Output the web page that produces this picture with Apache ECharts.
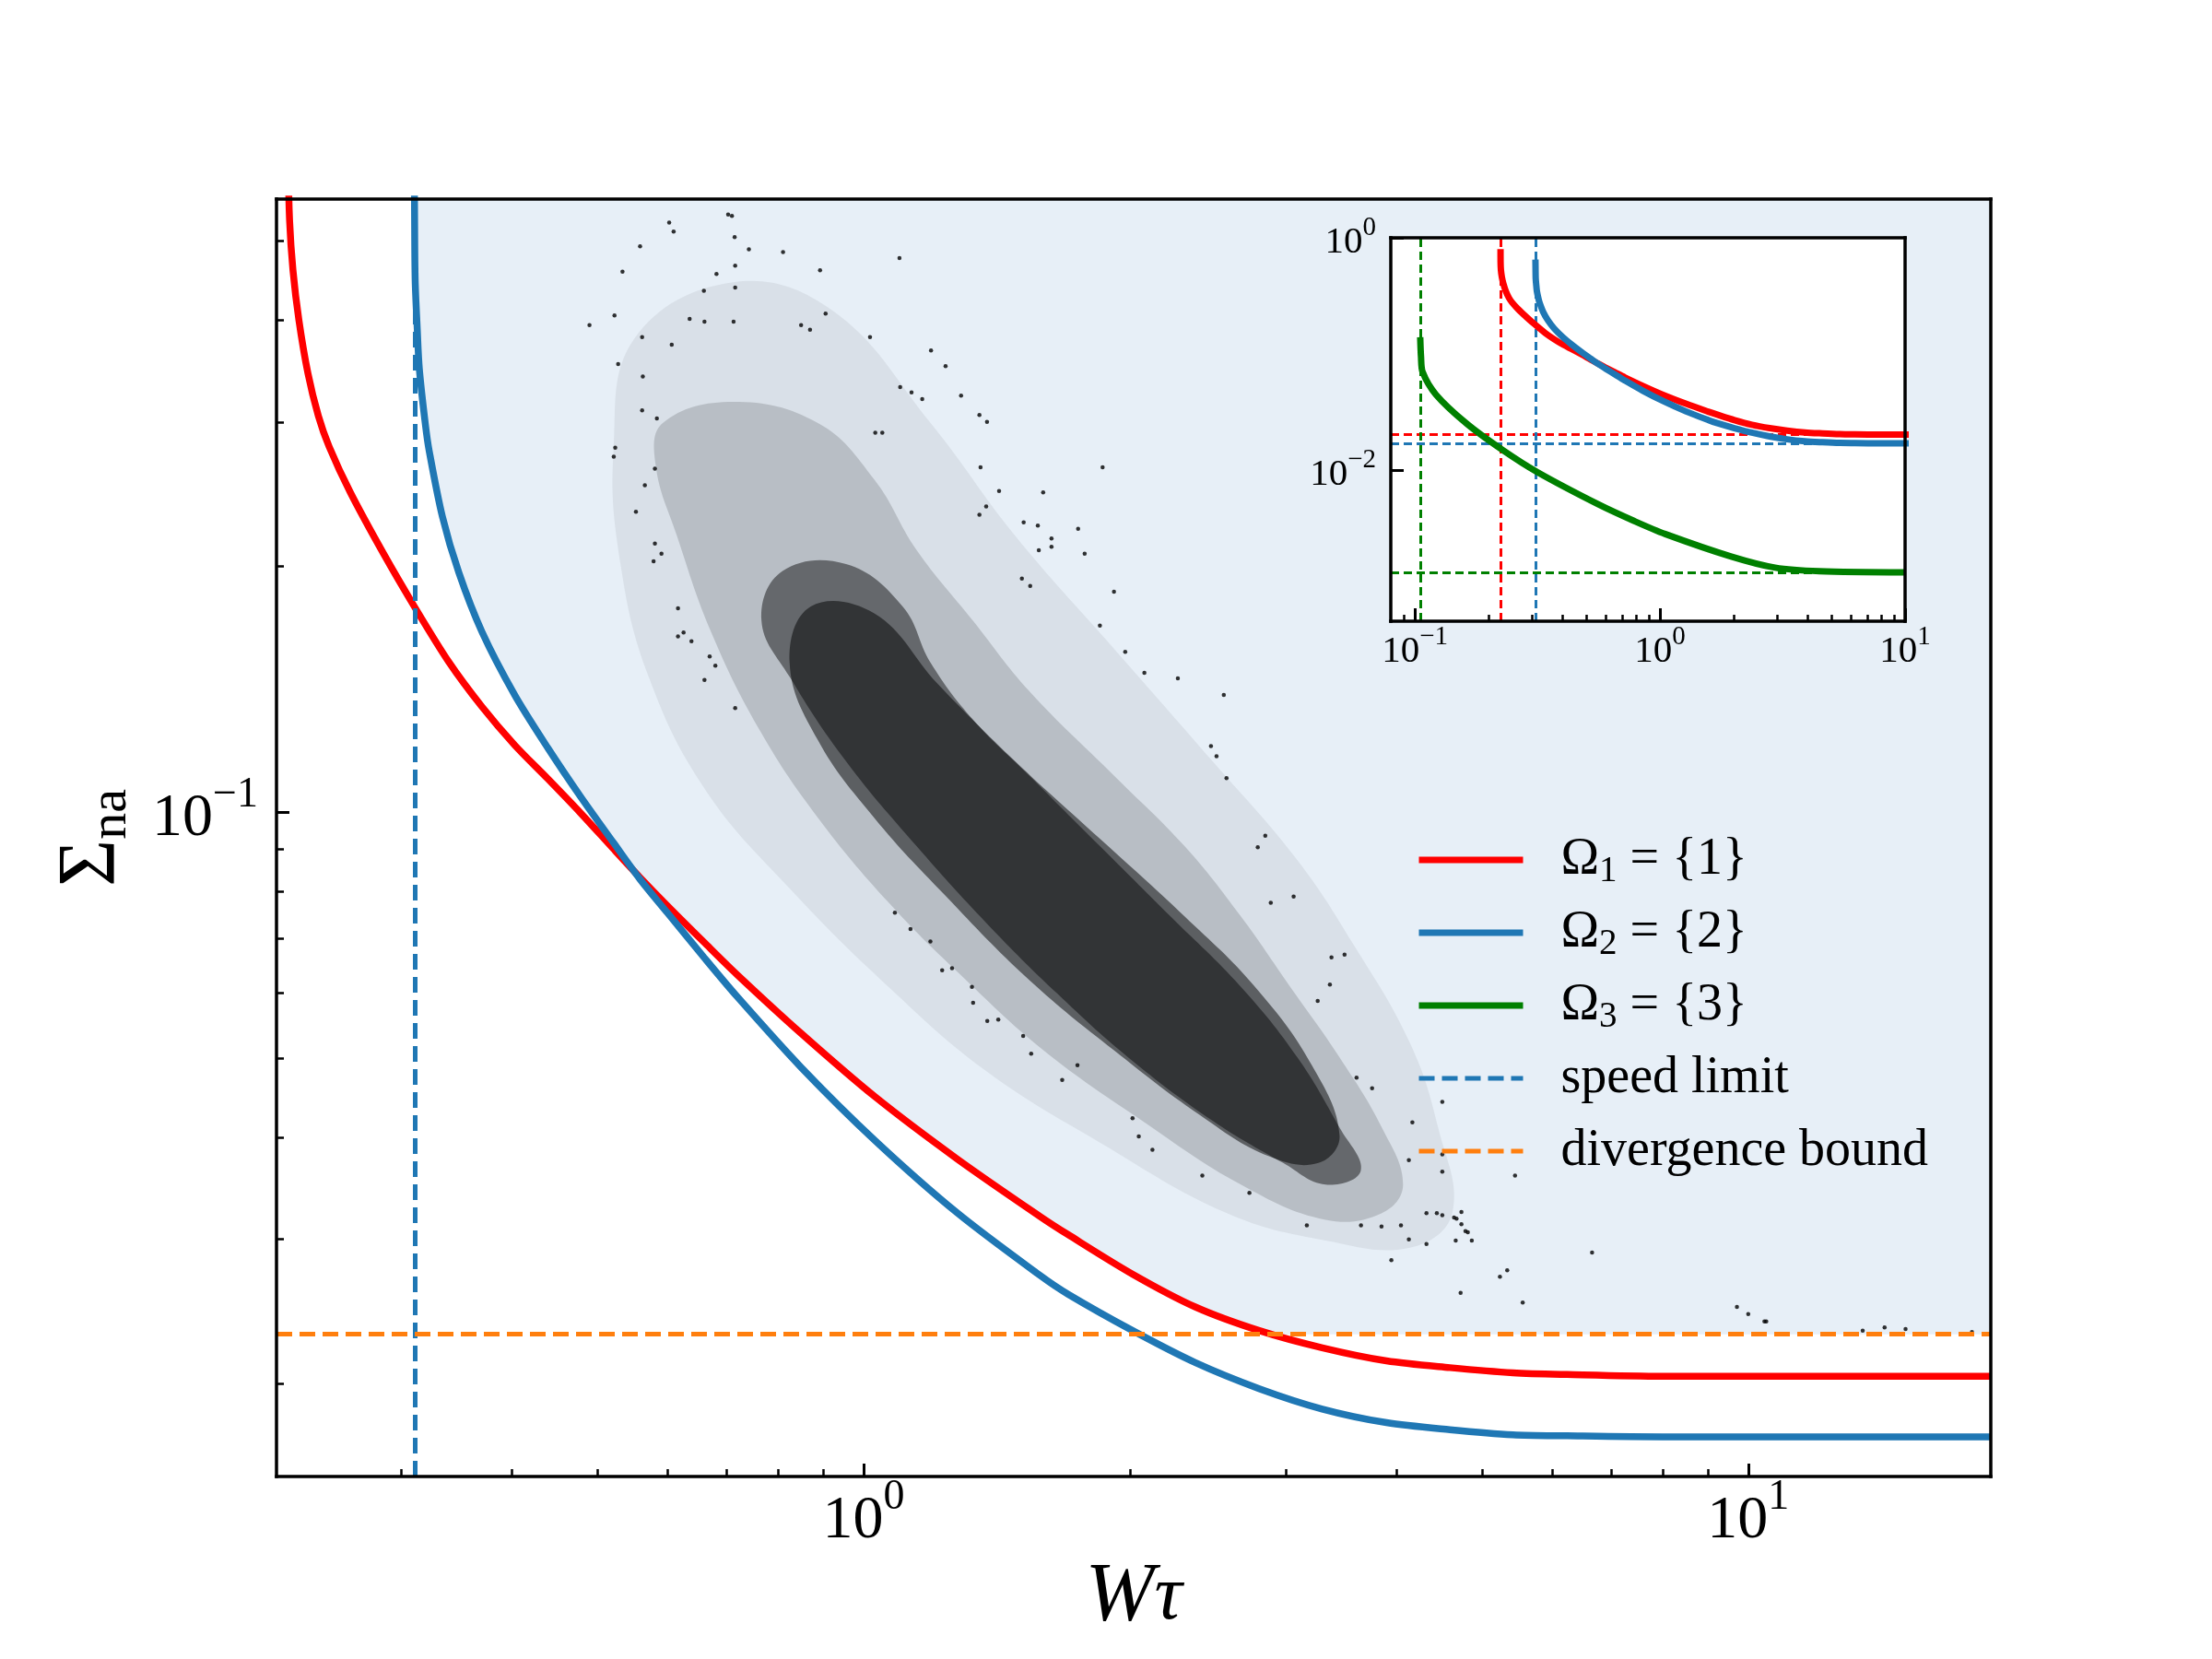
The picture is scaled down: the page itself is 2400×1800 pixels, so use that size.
<!DOCTYPE html>
<html>
<head>
<meta charset="utf-8">
<script src="https://cdn.jsdelivr.net/npm/echarts@6/dist/echarts.min.js"></script>
<style>html,body{margin:0;padding:0;background:#fff}#chart{width:2400px;height:1800px}</style>
</head>
<body>
<div id="chart"></div>
<script>
// ---------------- data ----------------
const mainXRange = [0.217, 18.8];
const mainYRange = [0.01538, 0.562];
const insetXRange = [0.0798, 10];
const insetYRange = [5.1e-4, 1];

const mainXMajor = [1, 10];
const mainXMinor = [0.3, 0.4, 0.5, 0.6, 0.7, 0.8, 0.9, 2, 3, 4, 5, 6, 7, 8, 9];
const mainYMajor = [0.1];
const mainYMinor = [0.02, 0.03, 0.04, 0.05, 0.06, 0.07, 0.08, 0.09, 0.2, 0.3, 0.4, 0.5];
const insetXMajor = [0.1, 1, 10];
const insetXMinor = [0.09, 0.2, 0.3, 0.4, 0.5, 0.6, 0.7, 0.8, 0.9, 2, 3, 4, 5, 6, 7, 8, 9];
const insetYMajor = [0.01, 1];

const legendNames = ['Ω₁ = {1}', 'Ω₂ = {2}', 'Ω₃ = {3}', 'speed limit', 'divergence bound'];

const redCurve = [[0.2237,0.80],[0.2238,0.62],[0.2245,0.53],[0.2265,0.46],[0.2300,0.40],[0.2355,0.344],[0.2420,0.305],[0.2488,0.280],[0.2629,0.2461],[0.2864,0.2074],[0.311,0.178],[0.3399,0.1525],[0.3704,0.1345],[0.4034,0.1207],[0.4396,0.1098],[0.4788,0.0997],[0.5216,0.0901],[0.5585,0.0832],[0.60,0.0768],[0.66,0.0693],[0.72,0.0632],[0.85,0.0536],[1.031,0.0448],[1.277,0.0376],[1.583,0.032],[1.703,0.0304],[2.014,0.0272],[2.371,0.0248],[2.80,0.0232],[3.30,0.0221],[3.90,0.0213],[4.60,0.0209],[5.42,0.0206],[6.24,0.0205],[8.0,0.0204],[12.0,0.0204],[18.8,0.0204]];
const blueCurve = [[0.3105,0.65],[0.3108,0.55],[0.3113,0.448],[0.3130,0.39],[0.3147,0.3485],[0.3198,0.297],[0.3229,0.2764],[0.3342,0.2297],[0.3488,0.1962],[0.3704,0.1661],[0.4034,0.139],[0.4396,0.1198],[0.4788,0.1044],[0.5216,0.0917],[0.5585,0.0828],[0.60,0.0753],[0.66,0.0664],[0.72,0.0594],[0.85,0.0487],[1.031,0.0396],[1.277,0.0323],[1.583,0.0271],[1.703,0.0257],[2.014,0.0232],[2.371,0.0212],[2.80,0.0197],[3.30,0.0186],[3.90,0.0179],[4.60,0.01755],[5.42,0.0173],[6.24,0.01725],[8.0,0.0172],[12.0,0.0172],[18.8,0.0172]];
const greenCurve = [[0.1052,0.14],[0.1060,0.095],[0.1076,0.0704],[0.122,0.045],[0.163,0.0253],[0.227,0.01516],[0.316,0.00973],[0.565,0.0051],[0.785,0.0037],[1.05,0.00286],[1.954,0.00183],[2.95,0.00147],[4.47,0.00137],[10,0.00134]];

const speedLimitX = [0.2239, 0.311, 0.1054];   // Ω1, Ω2, Ω3
const asymptoteY = [0.0205, 0.0172, 0.00134];  // Ω1, Ω2, Ω3
const divergenceBound = 0.02296;

// sample cloud, read as density outlines (sparse halo -> medium -> dense -> ridge) plus isolated samples
const cloudOuter = [[0.551,0.3797],[0.712,0.4447],[0.9211,0.411],[1.191,0.299],[1.4838,0.2177],[1.919,0.1584],[2.481,0.1153],[3.093,0.0873],[3.581,0.0688],[4.148,0.0521],[4.462,0.0411],[4.629,0.0323],[4.148,0.0293],[3.328,0.0299],[2.574,0.0323],[1.85,0.0394],[1.379,0.0481],[1.067,0.0611],[0.825,0.0806],[0.6622,0.1065],[0.5716,0.1463],[0.5312,0.201],[0.5216,0.2763]];
const cloudMid = [[0.5929,0.299],[0.712,0.3174],[0.888,0.299],[1.0283,0.2551],[1.148,0.2092],[1.329,0.1715],[1.539,0.1406],[1.919,0.1108],[2.306,0.0908],[2.67,0.0745],[3.036,0.0611],[3.452,0.0501],[3.854,0.0411],[4.072,0.035],[3.854,0.0323],[3.328,0.0317],[2.67,0.035],[2.065,0.0419],[1.597,0.0511],[1.281,0.0635],[1.067,0.0775],[0.888,0.0984],[0.7667,0.1248],[0.6744,0.1648],[0.6152,0.2177],[0.5822,0.2655]];
const cloudDense = [[0.81,0.1971],[0.9555,0.201],[1.107,0.1784],[1.191,0.1522],[1.329,0.1298],[1.539,0.1108],[1.85,0.0908],[2.223,0.0745],[2.67,0.0611],[3.093,0.0501],[3.452,0.0411],[3.648,0.0364],[3.328,0.035],[2.981,0.0372],[2.481,0.0419],[1.991,0.0501],[1.657,0.0599],[1.379,0.073],[1.148,0.0908],[0.9555,0.1153],[0.825,0.1463],[0.7667,0.1715]];
const cloudRidge = [[0.8718,0.1784],[1.0283,0.1749],[1.213,0.1434],[1.4838,0.1153],[1.85,0.0927],[2.306,0.0745],[2.77,0.0611],[3.208,0.0491],[3.452,0.0402],[3.267,0.0372],[2.873,0.0379],[2.391,0.0427],[1.919,0.0511],[1.539,0.0623],[1.236,0.0791],[1.028,0.0984],[0.888,0.1224],[0.825,0.1522]];
const cloudPoints = [[0.71,0.536],[0.61,0.513],[0.715,0.505],[0.559,0.492],[0.742,0.488],[0.811,0.484],[1.098,0.476],[0.716,0.466],[0.893,0.46],[0.534,0.458],
[0.682,0.455],[0.66,0.434],[0.716,0.438],[0.523,0.405],[0.49,0.394],[0.906,0.407],[0.636,0.401],[0.661,0.398],[0.713,0.398],[0.85,0.394],
[0.87,0.389],[1.017,0.381],[0.562,0.381],[0.607,0.373],[1.192,0.367],[0.528,0.353],[1.238,0.351],[0.563,0.341],[1.10,0.331],[1.133,0.326],
[1.289,0.323],[1.165,0.32],[1.352,0.306],[1.379,0.30],[0.562,0.31],[0.584,0.303],[0.524,0.279],[0.522,0.272],[1.05,0.291],[1.031,0.291],
[1.863,0.264],[1.356,0.264],[1.596,0.246],[1.423,0.247],[1.376,0.2365],[1.352,0.231],[1.517,0.226],[1.574,0.224],[1.748,0.222],[1.631,0.216],
[1.778,0.207],[1.631,0.211],[1.578,0.209],[1.51,0.193],[1.543,0.189],[1.919,0.186],[1.85,0.169],[0.553,0.233],[0.581,0.263],[0.566,0.251],
[0.581,0.213],[0.591,0.207],[0.579,0.2026],[0.617,0.1775],[0.617,0.164],[0.626,0.1658],[0.639,0.1617],[0.67,0.155],[0.68,0.151],[0.661,0.145],
[0.716,0.134],[2.554,0.139],[2.266,0.1457],[2.077,0.148],[1.976,0.157],[2.572,0.11],[2.47,0.1204],[2.506,0.117],[2.845,0.0935],[2.79,0.0905],
[3.063,0.0788],[2.886,0.0774],[3.497,0.0669],[3.38,0.0664],[3.366,0.0615],[3.261,0.0587],[3.608,0.0473],[3.757,0.0459],[4.172,0.0417],[4.51,0.0442],
[4.51,0.0381],[4.134,0.0375],[4.51,0.0363],[4.328,0.0323],[4.446,0.0323],[4.68,0.0318],[4.74,0.0324],[4.82,0.0306],[4.87,0.0299],[4.67,0.0299],
[4.134,0.03],[4.328,0.0296],[3.95,0.0283],[3.17,0.0312],[3.65,0.0312],[3.85,0.0311],[4.05,0.0312],[5.24,0.027],[5.34,0.0275],[5.45,0.0359],
[1.19,0.0694],[1.227,0.064],[1.259,0.0644],[1.326,0.0611],[1.38,0.0555],[1.42,0.0557],[1.547,0.0506],[1.515,0.0532],[1.677,0.047],[1.745,0.049],
[2.014,0.0422],[2.121,0.0386],[2.047,0.0401],[2.415,0.0359],[2.73,0.0342],[1.085,0.0753],[1.13,0.0719],[1.33,0.0584],[6.66,0.0289],[4.73,0.0258],
[5.56,0.0251],[9.71,0.0248],[10.0,0.0243],[10.43,0.0238],[10.48,0.0238],[13.47,0.0232],[14.26,0.0234],[15.06,0.0233],[17.9,0.0231],[4.79,0.0307],
[0.603,0.526],[0.703,0.538],[4.65,0.0319],[4.74,0.0313],[4.51,0.0321]];

// ---------------- styling ----------------
const FONT = 'Liberation Serif';
const RED = '#ff0000', BLUE = '#1f77b4', GREEN = '#008000', ORANGE = '#ff7f0e';
const FILL = '#e7eff7';
const MAIN_DASH = [17, 8], INSET_DASH = [9, 5];

function powLabel(v) {
  const e = Math.round(Math.log10(v));
  return '{b|10}{s|' + (e < 0 ? '\u2212' + (-e) : String(e)) + '}';
}
const mainRich = {
  b: {fontFamily: FONT, fontSize: 66, lineHeight: 82, verticalAlign: 'bottom', color: '#000'},
  s: {fontFamily: FONT, fontSize: 46, lineHeight: 46, verticalAlign: 'top', color: '#000'}
};
const insetRich = {
  b: {fontFamily: FONT, fontSize: 41, lineHeight: 51, verticalAlign: 'bottom', color: '#000'},
  s: {fontFamily: FONT, fontSize: 29, lineHeight: 29, verticalAlign: 'top', color: '#000'}
};

function logAxis(o) {
  return Object.assign({
    type: 'log', logBase: 10, z: 10, silent: true,
    splitLine: {show: false}, minorTick: {show: false}, minorSplitLine: {show: false},
    axisPointer: {show: false},
    axisLine: {show: false},
    axisTick: {show: false},
    axisLabel: {show: false}
  }, o);
}
const spine = {show: true, onZero: false, lineStyle: {color: '#000', width: 3.5, cap: 'square'}};
function ticks(vals, len, w) {
  return {show: true, inside: true, length: len, customValues: vals, lineStyle: {color: '#000', width: w}};
}

function polySeries(poly, alpha) {
  return {
    type: 'custom', xAxisIndex: 0, yAxisIndex: 0, z: 3, silent: true, clip: true,
    data: poly,
    renderItem: function (params, api) {
      if (params.dataIndex !== 0) return null;
      return {
        type: 'polygon',
        shape: {points: poly.map(p => api.coord(p)), smooth: 0.4},
        style: {fill: 'rgba(0,0,0,' + alpha + ')'}
      };
    }
  };
}
function markLines(xs, ys, color, width, dash) {
  return {
    silent: true, symbol: ['none', 'none'], label: {show: false}, precision: 10,
    emphasis: {disabled: true}, animation: false,
    lineStyle: {color: color, width: width, type: dash, opacity: 1},
    data: xs.map(v => ({xAxis: v})).concat(ys.map(v => ({yAxis: v})))
  };
}
function curve(name, data, color, xi, yi, z, width, ml) {
  const s = {
    name: name, type: 'line', data: data, xAxisIndex: xi, yAxisIndex: yi,
    symbol: 'none', smooth: 0.3, z: z, silent: true, clip: true,
    itemStyle: {color: color}, lineStyle: {color: color, width: width}
  };
  if (ml) s.markLine = ml;
  return s;
}
function whiteOut(data) {
  return {
    type: 'line', data: data, xAxisIndex: 0, yAxisIndex: 0, symbol: 'none', smooth: 0.3,
    z: 2, silent: true, clip: true, lineStyle: {width: 0},
    areaStyle: {color: '#ffffff', opacity: 1, origin: 'start'}
  };
}

const option = {
  animation: false,
  backgroundColor: '#ffffff',
  textStyle: {fontFamily: FONT},
  grid: [
    {left: 300, top: 216, width: 1860, height: 1386, show: false, containLabel: false, outerBoundsMode: 'none'},
    {left: 1509, top: 258, width: 558, height: 416, show: true, backgroundColor: '#ffffff', borderWidth: 0, z: 5, containLabel: false, outerBoundsMode: 'none'}
  ],
  xAxis: [
    logAxis({gridIndex: 0, position: 'bottom', min: mainXRange[0], max: mainXRange[1],
      axisLine: spine, axisTick: ticks(mainXMajor, 14, 3),
      axisLabel: {show: true, customValues: mainXMajor, formatter: powLabel, margin: 0, rich: mainRich},
      name: '{w|W}{t|τ}', nameLocation: 'middle', nameGap: 66,
      nameTextStyle: {rich: {
        w: {fontFamily: FONT, fontStyle: 'italic', fontSize: 90, color: '#000'},
        t: {fontFamily: FONT, fontStyle: 'italic', fontSize: 84, color: '#000'}}}}),
    logAxis({gridIndex: 0, position: 'bottom', min: mainXRange[0], max: mainXRange[1],
      axisTick: ticks(mainXMinor, 8, 2.5)}),
    logAxis({gridIndex: 0, position: 'top', min: mainXRange[0], max: mainXRange[1], axisLine: spine}),
    logAxis({gridIndex: 1, position: 'bottom', min: insetXRange[0], max: insetXRange[1],
      axisLine: spine, axisTick: ticks(insetXMajor, 14, 3),
      axisLabel: {show: true, customValues: insetXMajor, formatter: powLabel, margin: 3, rich: insetRich}}),
    logAxis({gridIndex: 1, position: 'bottom', min: insetXRange[0], max: insetXRange[1],
      axisTick: ticks(insetXMinor, 7, 2.5)}),
    logAxis({gridIndex: 1, position: 'top', min: insetXRange[0], max: insetXRange[1], axisLine: spine})
  ],
  yAxis: [
    logAxis({gridIndex: 0, position: 'left', min: mainYRange[0], max: mainYRange[1],
      axisLine: spine, axisTick: ticks(mainYMajor, 14, 3),
      axisLabel: {show: true, customValues: mainYMajor, formatter: powLabel, margin: 20, rich: mainRich},
      name: '{a|Σ}{n|na}', nameLocation: 'middle', nameGap: 150, nameRotate: 90,
      nameTextStyle: {rich: {
        a: {fontFamily: FONT, fontSize: 88, lineHeight: 100, verticalAlign: 'middle', color: '#000'},
        n: {fontFamily: FONT, fontSize: 58, lineHeight: 56, verticalAlign: 'bottom', color: '#000'}}}}),
    logAxis({gridIndex: 0, position: 'left', min: mainYRange[0], max: mainYRange[1],
      axisTick: ticks(mainYMinor, 8, 2.5)}),
    logAxis({gridIndex: 0, position: 'right', min: mainYRange[0], max: mainYRange[1], axisLine: spine}),
    logAxis({gridIndex: 1, position: 'left', min: insetYRange[0], max: insetYRange[1],
      axisLine: spine, axisTick: ticks(insetYMajor, 14, 3),
      axisLabel: {show: true, customValues: insetYMajor, formatter: powLabel, margin: 16, rich: insetRich}}),
    logAxis({gridIndex: 1, position: 'right', min: insetYRange[0], max: insetYRange[1], axisLine: spine})
  ],
  legend: {
    show: true, orient: 'vertical', left: 1536, top: 901, padding: 0,
    itemGap: 15, itemWidth: 113, itemHeight: 64, selectedMode: false, z: 20,
    itemStyle: {opacity: 0},
    textStyle: {fontFamily: FONT, fontSize: 56, lineHeight: 64, color: '#000', padding: [0, 0, 0, 36],
      rich: {s: {fontFamily: FONT, fontSize: 39, lineHeight: 35, verticalAlign: 'bottom', color: '#000'}}},
    formatter: function (name) {
      return name.replace(/[₁₂₃]/, m => '{s|' + ('₁₂₃'.indexOf(m) + 1) + '}');
    },
    data: legendNames.map((n, i) => ({name: n, itemStyle: {opacity: 0}, lineStyle: {width: i < 3 ? 7 : 5, opacity: 1}}))
  },
  series: [
    // shaded region: above the divergence bound, right of the Ω2 speed limit ...
    {type: 'line', xAxisIndex: 0, yAxisIndex: 0, symbol: 'none', z: 1, silent: true,
     data: [[speedLimitX[1], divergenceBound], [mainXRange[1], divergenceBound]],
     lineStyle: {width: 0}, areaStyle: {color: FILL, opacity: 1, origin: 'end'}},
    // ... and above both bound curves
    whiteOut(redCurve),
    whiteOut(blueCurve),
    polySeries(cloudOuter, 0.06),
    polySeries(cloudMid, 0.15),
    polySeries(cloudDense, 0.45),
    polySeries(cloudRidge, 0.5),
    {type: 'scatter', xAxisIndex: 0, yAxisIndex: 0, data: cloudPoints, symbolSize: 4.5,
     itemStyle: {color: '#000'}, z: 4, silent: true},
    curve(legendNames[0], redCurve, RED, 0, 0, 4, 7.5),
    curve(legendNames[1], blueCurve, BLUE, 0, 0, 4, 7.5),
    {name: legendNames[3], type: 'line', xAxisIndex: 0, yAxisIndex: 0, data: [], symbol: 'none', z: 5,
     itemStyle: {color: BLUE}, lineStyle: {color: BLUE, width: 5, type: MAIN_DASH},
     markLine: markLines([speedLimitX[1]], [], BLUE, 5, MAIN_DASH)},
    {name: legendNames[4], type: 'line', xAxisIndex: 0, yAxisIndex: 0, data: [], symbol: 'none', z: 5,
     itemStyle: {color: ORANGE}, lineStyle: {color: ORANGE, width: 5, type: MAIN_DASH},
     markLine: markLines([], [divergenceBound], ORANGE, 5, MAIN_DASH)},
    // inset
    curve(legendNames[0], redCurve, RED, 3, 3, 7, 7, markLines([speedLimitX[0]], [asymptoteY[0]], RED, 3, INSET_DASH)),
    curve(legendNames[1], blueCurve, BLUE, 3, 3, 7, 7, markLines([speedLimitX[1]], [asymptoteY[1]], BLUE, 3, INSET_DASH)),
    curve(legendNames[2], greenCurve, GREEN, 3, 3, 7, 7, markLines([speedLimitX[2]], [asymptoteY[2]], GREEN, 3, INSET_DASH))
  ]
};

const chart = echarts.init(document.getElementById('chart'), null, {renderer: 'canvas', width: 2400, height: 1800});
chart.setOption(option);
</script>
</body>
</html>
